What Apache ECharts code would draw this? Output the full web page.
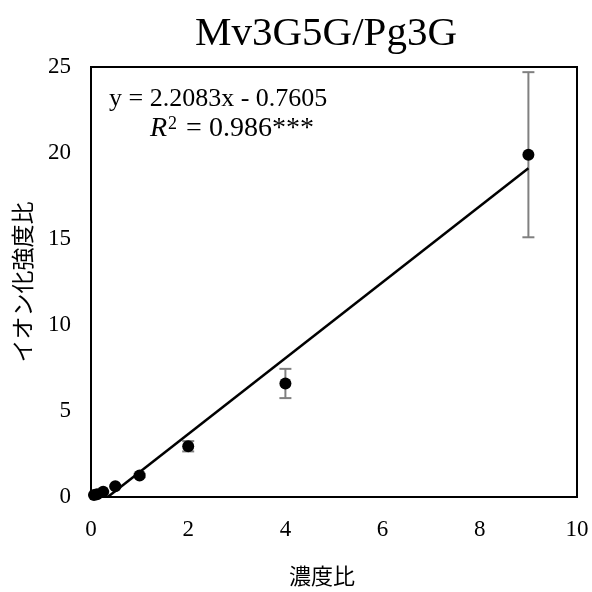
<!DOCTYPE html>
<html>
<head>
<meta charset="utf-8">
<script src="https://cdn.jsdelivr.net/npm/echarts@6/dist/echarts.min.js"></script>
<style>
  html, body { margin: 0; padding: 0; background: #fff; }
  #chart { width: 592px; height: 592px; }
</style>
</head>
<body>
<div id="chart"></div>
<script>
// concentration ratio vs ion intensity ratio
var concRatio = [0.0625, 0.125, 0.25, 0.5, 1, 2, 4, 9];
var intensityRatio = [0.12, 0.16, 0.3, 0.62, 1.25, 2.95, 6.6, 19.9];
var errSD = [0.02, 0.03, 0.05, 0.06, 0.1, 0.3, 0.85, 4.8];
var slope = 2.2083;
var intercept = -0.7605;
var xTicks = [0, 2, 4, 6, 8, 10];
var yTicks = [0, 5, 10, 15, 20, 25];

var serif = "'Liberation Serif', 'DejaVu Serif', serif";
var cjk = "'Noto Sans CJK JP', sans-serif";

var chartDom = document.getElementById("chart");
var myChart = echarts.init(chartDom);

// trend line from y = 0 up to the last point
var xStart = -intercept / slope;
var xEnd = concRatio[concRatio.length - 1];
var fitLine = [
  [xStart, slope * xStart + intercept],
  [xEnd, slope * xEnd + intercept],
];

var errData = concRatio.map(function (x, i) {
  return [x, intensityRatio[i] - errSD[i], intensityRatio[i] + errSD[i]];
});

var option = {
  animation: false,
  backgroundColor: "#fff",
  title: {
    text: "Mv3G5G/Pg3G",
    left: 321,
    top: 9,
    textAlign: "center",
    textStyle: { fontFamily: serif, fontSize: 41, fontWeight: "normal", color: "#000" },
  },
  grid: {
    left: 91,
    right: 15,
    top: 67,
    bottom: 95,
    show: true,
    borderColor: "#000",
    borderWidth: 2,
  },
  xAxis: {
    type: "value",
    min: xTicks[0],
    max: xTicks[xTicks.length - 1],
    interval: 2,
    name: "濃度比",
    nameLocation: "middle",
    nameGap: 68,
    nameTextStyle: { fontFamily: cjk, fontSize: 22, color: "#000", padding: [0, 24, 0, 0] },
    axisLine: { show: true, lineStyle: { color: "#000", width: 2 } },
    axisTick: { show: false },
    splitLine: { show: false },
    axisLabel: { fontFamily: serif, fontSize: 23, color: "#000", margin: 21 },
  },
  yAxis: {
    type: "value",
    min: yTicks[0],
    max: yTicks[yTicks.length - 1],
    interval: 5,
    name: "イオン化強度比",
    nameLocation: "middle",
    nameGap: 57,
    nameTextStyle: { fontFamily: cjk, fontSize: 23, color: "#000" },
    axisLine: { show: true, lineStyle: { color: "#000", width: 2 } },
    axisTick: { show: false },
    splitLine: { show: false },
    axisLabel: { fontFamily: serif, fontSize: 23, color: "#000", margin: 20 },
  },
  graphic: [
    {
      type: "text",
      left: 109,
      top: 86,
      style: {
        text: "y = 2.2083x - 0.7605",
        font: "26px " + serif,
        fill: "#000",
      },
    },
    {
      type: "text",
      left: 150,
      top: 115,
      style: {
        text: "{i|R}{s|2} = 0.986***",
        font: "28px " + serif,
        fill: "#000",
        rich: {
          i: { fontStyle: "italic", fontSize: 28, fontFamily: serif },
          s: { fontSize: 18, fontFamily: serif, verticalAlign: "top", padding: [0, 2, 9, 1] },
        },
      },
    },
  ],
  series: [
    {
      type: "custom",
      name: "err",
      z: 1,
      renderItem: function (params, api) {
        var x = api.value(0);
        var lo = api.coord([x, api.value(1)]);
        var hi = api.coord([x, api.value(2)]);
        var cap = 6;
        var st = { stroke: "#808080", lineWidth: 2 };
        return {
          type: "group",
          children: [
            { type: "line", shape: { x1: lo[0], y1: lo[1], x2: hi[0], y2: hi[1] }, style: st },
            { type: "line", shape: { x1: lo[0] - cap, y1: lo[1], x2: lo[0] + cap, y2: lo[1] }, style: st },
            { type: "line", shape: { x1: hi[0] - cap, y1: hi[1], x2: hi[0] + cap, y2: hi[1] }, style: st },
          ],
        };
      },
      encode: { x: 0, y: [1, 2] },
      data: errData,
    },
    {
      type: "line",
      name: "fit",
      z: 2,
      data: fitLine,
      showSymbol: false,
      symbol: "none",
      lineStyle: { color: "#000", width: 2.5 },
    },
    {
      type: "scatter",
      name: "data",
      z: 3,
      symbol: "circle",
      symbolSize: 12,
      itemStyle: { color: "#000", opacity: 1 },
      data: concRatio.map(function (x, i) {
        return [x, intensityRatio[i]];
      }),
    },
  ],
};

option && myChart.setOption(option);
</script>
</body>
</html>
